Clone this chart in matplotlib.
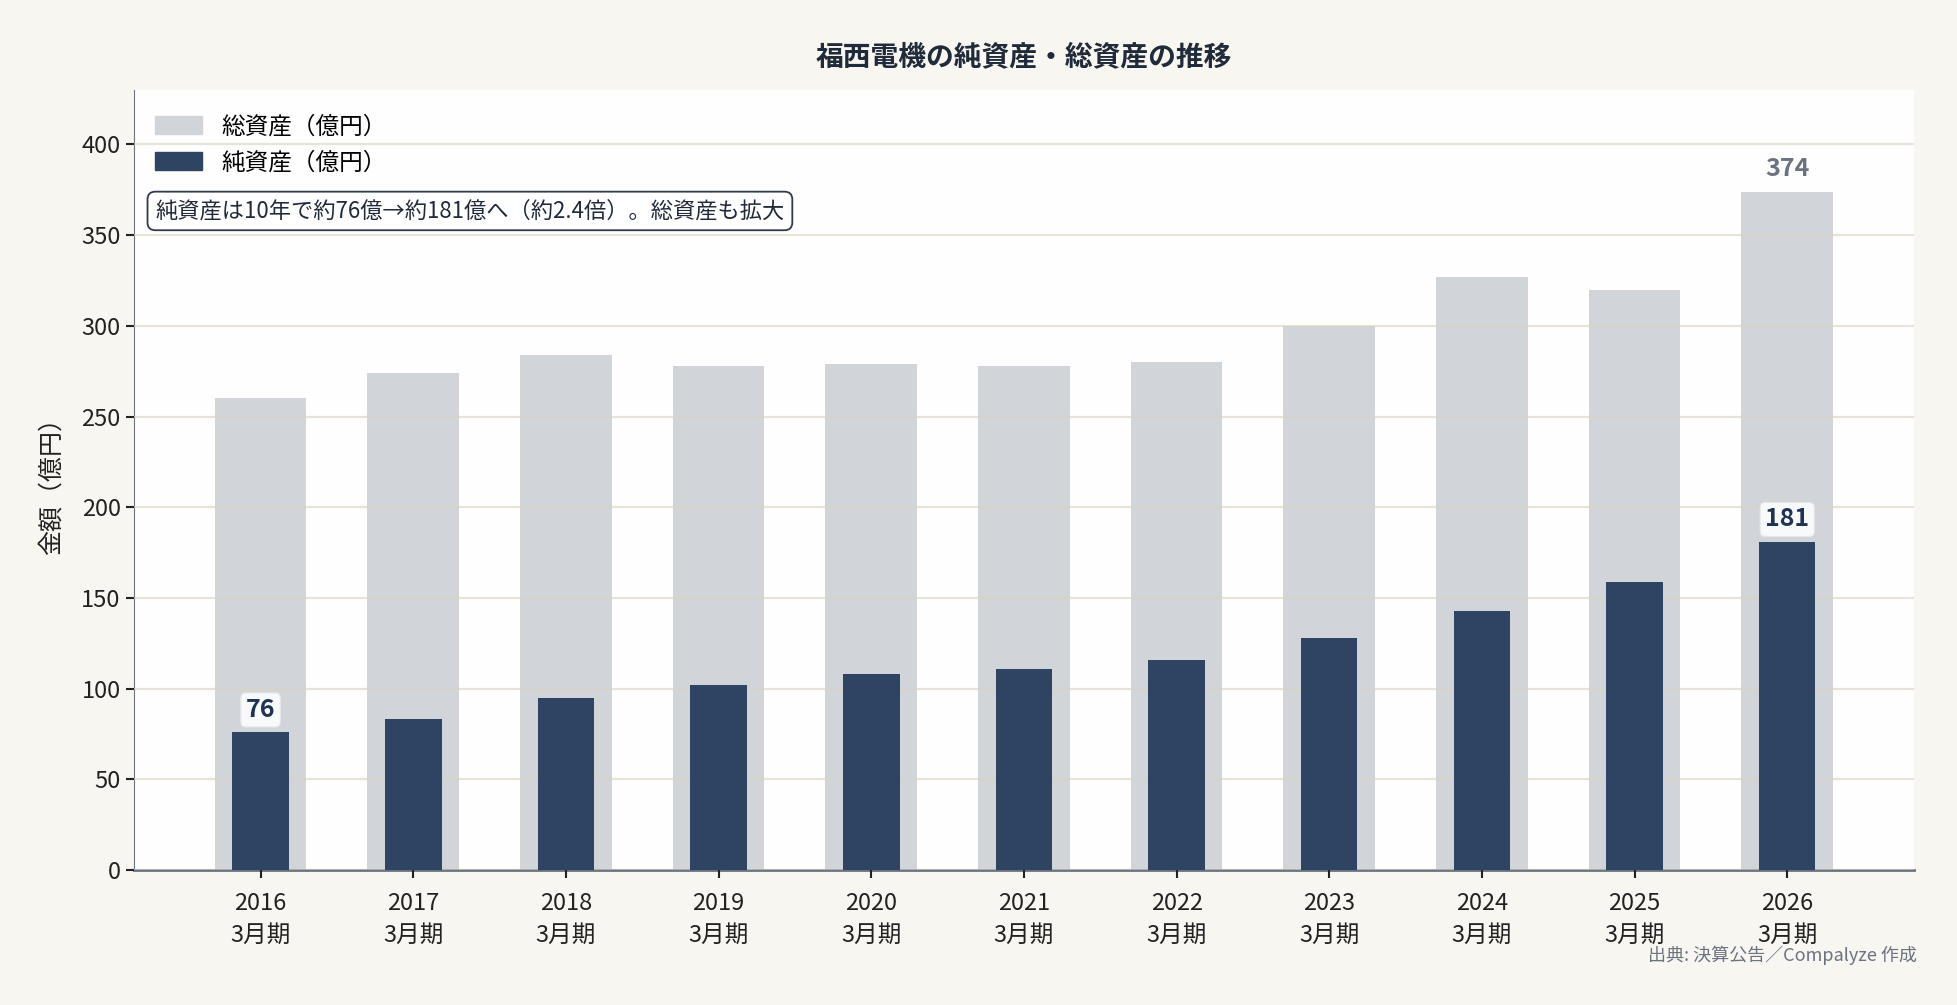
import matplotlib
matplotlib.use("Agg")
import matplotlib.pyplot as plt
from matplotlib.patches import Patch

plt.rcParams['font.family'] = ['Noto Sans CJK JP', 'DejaVu Sans']

years = ["2016", "2017", "2018", "2019", "2020", "2021", "2022", "2023", "2024", "2025", "2026"]
period = "3月期"
total_assets = [260, 274, 284, 278, 279, 278, 280, 300, 327, 320, 374]
net_assets = [76, 83, 95, 102, 108, 111, 116, 128, 143, 159, 181]

bg = "#f8f6f0"
gray = "#d1d5d9"
navy = "#2f4462"

fig = plt.figure(figsize=(19.58, 10.05), dpi=100, facecolor=bg)
ax = fig.add_axes([0.0684, 0.1343, 0.9091, 0.7761])
ax.set_facecolor("#fefefe")

x = list(range(len(years)))
ax.bar(x, total_assets, width=0.6, color=gray, zorder=1)
ax.bar(x, net_assets, width=0.37, color=navy, zorder=3)

ax.set_ylim(0, 430)
ax.set_yticks(range(0, 401, 50))
ax.set_xticks(x)
ax.set_xticklabels([f"{y}\n{period}" for y in years], linespacing=1.5)
ax.tick_params(axis='both', labelsize=17, colors="#222222", length=6, width=1.5)
ax.tick_params(axis='x', pad=10)

ax.grid(axis='y', color="#d8d2c0", alpha=0.6, linewidth=1.6, zorder=2)
ax.set_axisbelow(False)

for s in ["top", "right"]:
    ax.spines[s].set_visible(False)
ax.spines["left"].set_color("#6b7280")
ax.spines["bottom"].set_color("#6b7280")
ax.spines["bottom"].set_linewidth(2)

ax.set_ylabel("金額（億円）", fontsize=18, color="#222222", labelpad=12)
ax.set_title("福西電機の純資産・総資産の推移", fontsize=20, fontweight="bold",
             color="#1f2a3a", pad=18)

# value labels
ax.annotate(str(total_assets[-1]), (x[-1], total_assets[-1]), xytext=(0, 16),
            textcoords="offset points", ha="center", va="center",
            fontsize=18, fontweight="bold", color="#6b7280")
for i in [0, len(years) - 1]:
    ax.annotate(str(net_assets[i]), (x[i], net_assets[i]), xytext=(0, 16),
                textcoords="offset points", ha="center", va="center",
                fontsize=18, fontweight="bold", color="#1f3354",
                bbox=dict(boxstyle="round,pad=0.2", fc="#f8f9fa", ec="#e5e7eb", lw=0.8),
                zorder=5)

handles = [Patch(color=gray, label="総資産（億円）"), Patch(color=navy, label="純資産（億円）")]
ax.legend(handles=handles, loc="upper left", frameon=False, fontsize=17,
          handlelength=2.0, handleheight=0.8, bbox_to_anchor=(0.0, 0.995),
          labelspacing=0.55)

ax.text(0.012, 0.845, "純資産は10年で約76億→約181億へ（約2.4倍）。総資産も拡大",
        transform=ax.transAxes, fontsize=16, color="#1f2a3a", va="center", ha="left",
        bbox=dict(boxstyle="round,pad=0.35", fc="white", ec="#2f3a4f", lw=1.3), zorder=6)

fig.text(0.979, 0.049, "出典: 決算公告／Compalyze 作成", ha="right", va="center",
         fontsize=13, color="#6b7280")

fig.savefig("out.png", dpi=100, facecolor=bg)
